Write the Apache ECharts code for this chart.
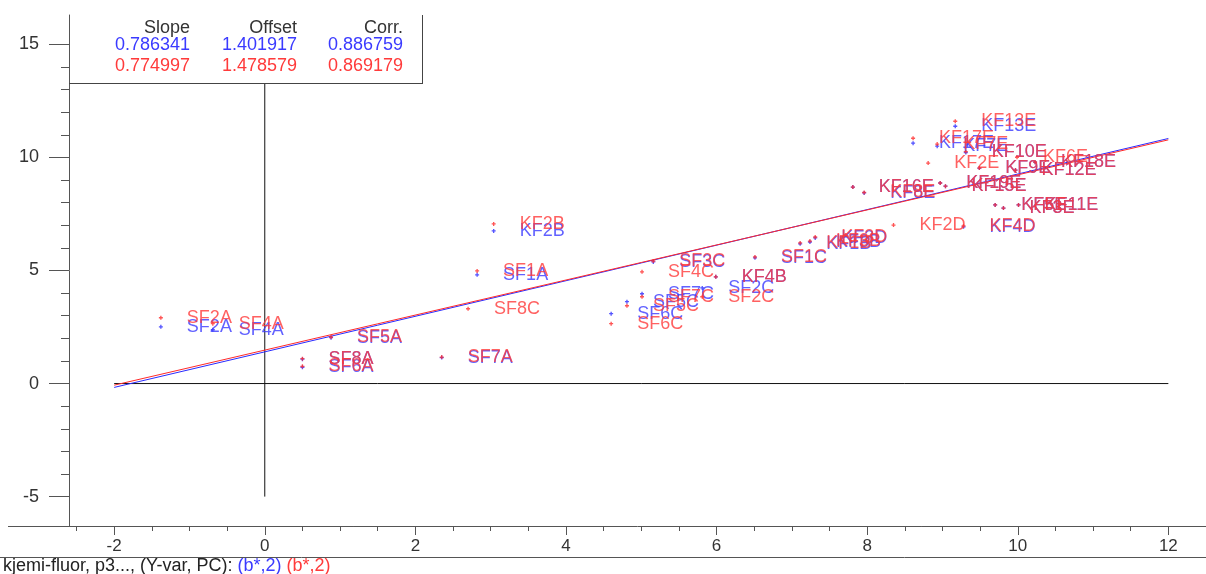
<!DOCTYPE html>
<html>
<head>
<meta charset="utf-8">
<script src="https://cdn.jsdelivr.net/npm/echarts@6/dist/echarts.min.js"></script>
<style>
  html, body { margin: 0; padding: 0; background: #fff; }
  #chart { width: 1206px; height: 574px; }
</style>
</head>
<body>
<div id="chart"></div>
<script>
// Sample names and their shared x value (predictor)
const sampleNames = ['SF2A','SF4A','SF5A','SF8A','SF6A','SF7A','SF8C','SF1A','KF2B','SF4C','SF3C','SF7C','SF5C','SF6C','SF2C','KF4B','SF1C','KF1B','KF3B','KF3D','KF2D','KF4D','KF16E','KF8E','KF13E','KF17E','KF7E','KF10E','KF2E','KF19E','KF15E','KF6E','KF9E','KF12E','KF18E','KF11E','KF5E','KF3E'];
const xValues    = [-1.38,-0.69,0.88,0.50,0.50,2.35,2.70,2.82,3.04,5.01,5.16,5.01,4.81,4.60,5.81,5.99,6.51,7.11,7.24,7.31,8.35,9.28,7.81,7.96,9.17,8.61,8.93,9.31,8.81,8.97,9.04,9.99,9.49,9.97,10.23,10.01,9.70,9.81];
// Response values, blue set (first b* variable) and red set (second b* variable)
const yBlue      = [2.51,2.38,2.03,1.08,0.72,1.15,null,4.81,6.75,null,5.38,3.97,3.62,3.09,4.23,4.72,5.56,6.18,6.26,6.44,null,6.93,8.69,8.43,11.38,10.63,10.50,10.22,null,8.87,8.73,null,9.53,9.44,9.79,7.90,7.90,7.76];
const yRed       = [2.91,2.65,2.06,1.10,0.76,1.17,3.31,4.98,7.06,4.94,5.42,3.84,3.44,2.65,3.84,4.72,5.60,6.22,6.30,6.48,7.01,6.97,8.69,8.45,11.60,10.85,10.59,10.26,9.75,8.87,8.73,10.01,9.53,9.44,9.79,7.90,7.90,7.76];

// Regression statistics: [blue, red]
const slopes  = [0.786341, 0.774997];
const offsets = [1.401917, 1.478579];
const corrs   = [0.886759, 0.869179];
const fitRange = [-2, 12];

// Axis ticks
const xMajorTicks = [-2, 0, 2, 4, 6, 8, 10, 12];
const xMinorTicks = [-2.5,-2,-1.5,-1,-0.5,0,0.5,1,1.5,2,2.5,3,3.5,4,4.5,5,5.5,6,6.5,7,7.5,8,8.5,9,9.5,10,10.5,11,11.5,12,12.5];
const yMajorTicks = [-5, 0, 5, 10, 15];
const yMinorTicks = [-5,-4,-3,-2,-1,0,1,2,3,4,5,6,7,8,9,10,11,12,13,14,15];
const zeroLineX = [-2, 12];
const zeroLineY = [-5, 16.3];

const BLUE = '#2a2aff', RED = '#ff2a2a';
const BLUE_TXT = '#3a3aff', RED_TXT = '#ff3a3a';
const FONT = 'Liberation Sans, Arial, sans-serif';

function pts(ys) {
  const out = [];
  sampleNames.forEach((n, i) => { if (ys[i] != null) out.push([xValues[i], ys[i], n]); });
  return out;
}
function fitLine(k) {
  return fitRange.map(x => [x, offsets[k] + slopes[k] * x]);
}
const plus = 'path://M1,0H2V1H3V2H2V3H1V2H0V1H1Z';

const X_MIN = -2.6, X_MAX = 12.5, Y_MIN = -6.3, Y_MAX = 16.3;

const axisCommon = {
  type: 'value', splitLine: { show: false },
  axisLine: { show: false, onZero: false },
  axisLabel: { show: false }, axisTick: { show: false }
};

const chart = echarts.init(document.getElementById('chart'), null, { renderer: 'canvas' });
chart.setOption({
  animation: false,
  backgroundColor: '#fff',
  grid: { left: 69, top: 15, width: 1137, height: 511 },
  xAxis: [
    Object.assign({}, axisCommon, {
      min: X_MIN, max: X_MAX, position: 'bottom',
      axisLine: { show: true, onZero: false, lineStyle: { color: '#555', width: 1 } },
      axisTick: { show: true, length: 9, customValues: xMajorTicks, lineStyle: { color: '#555' } },
      axisLabel: { show: true, customValues: xMajorTicks, margin: 12, fontSize: 17, color: '#333', fontFamily: FONT }
    }),
    Object.assign({}, axisCommon, {
      min: X_MIN, max: X_MAX, position: 'bottom',
      axisTick: { show: true, length: 5, customValues: xMinorTicks, lineStyle: { color: '#555' } }
    })
  ],
  yAxis: [
    Object.assign({}, axisCommon, {
      min: Y_MIN, max: Y_MAX, position: 'left',
      axisLine: { show: true, onZero: false, lineStyle: { color: '#555', width: 1 } },
      axisTick: { show: true, length: 20, customValues: yMajorTicks, lineStyle: { color: '#555' } },
      axisLabel: { show: true, customValues: yMajorTicks, margin: 30, fontSize: 18, color: '#333', fontFamily: FONT }
    }),
    Object.assign({}, axisCommon, {
      min: Y_MIN, max: Y_MAX, position: 'left',
      axisTick: { show: true, length: 8, customValues: yMinorTicks, lineStyle: { color: '#555' } }
    })
  ],
  series: [
    { type: 'line', data: zeroLineX.map(x => [x, 0]), symbol: 'none', silent: true,
      lineStyle: { color: '#111', width: 1 }, z: 1 },
    { type: 'line', data: zeroLineY.map(y => [0, y]), symbol: 'none', silent: true,
      lineStyle: { color: '#111', width: 1 }, z: 1 },
    { type: 'line', data: fitLine(0), symbol: 'none', lineStyle: { color: BLUE, width: 1 }, z: 2 },
    { type: 'line', data: fitLine(1), symbol: 'none', lineStyle: { color: RED, width: 1 }, z: 3 },
    { type: 'scatter', data: pts(yBlue), symbol: plus, symbolSize: 4,
      itemStyle: { color: BLUE }, z: 4,
      label: { show: true, position: 'right', distance: 24, formatter: p => p.data[2],
               fontSize: 18, fontFamily: FONT, color: BLUE_TXT } },
    { type: 'scatter', data: pts(yRed), symbol: plus, symbolSize: 4,
      itemStyle: { color: RED }, z: 5,
      label: { show: true, position: 'right', distance: 24, formatter: p => p.data[2],
               fontSize: 18, fontFamily: FONT, color: RED_TXT } }
  ],
  graphic: [
    // statistics box in the upper-left corner
    { type: 'rect', z: 100, shape: { x: 70, y: 15, width: 352, height: 68 }, style: { fill: '#fff' } },
    { type: 'line', z: 101, shape: { x1: 69, y1: 83.5, x2: 422.5, y2: 83.5 }, style: { stroke: '#444', lineWidth: 1 } },
    { type: 'line', z: 101, shape: { x1: 422.5, y1: 15, x2: 422.5, y2: 84 }, style: { stroke: '#444', lineWidth: 1 } },
    { type: 'text', z: 102, x: 190, y: 28, style: { text: 'Slope', align: 'right', verticalAlign: 'middle', fontSize: 18, fontFamily: FONT, fill: '#333' } },
    { type: 'text', z: 102, x: 297, y: 28, style: { text: 'Offset', align: 'right', verticalAlign: 'middle', fontSize: 18, fontFamily: FONT, fill: '#333' } },
    { type: 'text', z: 102, x: 403, y: 28, style: { text: 'Corr.', align: 'right', verticalAlign: 'middle', fontSize: 18, fontFamily: FONT, fill: '#333' } },
    { type: 'text', z: 102, x: 190, y: 45, style: { text: slopes[0].toFixed(6), align: 'right', verticalAlign: 'middle', fontSize: 18, fontFamily: FONT, fill: BLUE_TXT } },
    { type: 'text', z: 102, x: 297, y: 45, style: { text: offsets[0].toFixed(6), align: 'right', verticalAlign: 'middle', fontSize: 18, fontFamily: FONT, fill: BLUE_TXT } },
    { type: 'text', z: 102, x: 403, y: 45, style: { text: corrs[0].toFixed(6), align: 'right', verticalAlign: 'middle', fontSize: 18, fontFamily: FONT, fill: BLUE_TXT } },
    { type: 'text', z: 102, x: 190, y: 66, style: { text: slopes[1].toFixed(6), align: 'right', verticalAlign: 'middle', fontSize: 18, fontFamily: FONT, fill: RED_TXT } },
    { type: 'text', z: 102, x: 297, y: 66, style: { text: offsets[1].toFixed(6), align: 'right', verticalAlign: 'middle', fontSize: 18, fontFamily: FONT, fill: RED_TXT } },
    { type: 'text', z: 102, x: 403, y: 66, style: { text: corrs[1].toFixed(6), align: 'right', verticalAlign: 'middle', fontSize: 18, fontFamily: FONT, fill: RED_TXT } },
    // bottom axis line continues to the left edge; footer rule and caption
    { type: 'line', z: 50, shape: { x1: 8, y1: 526.5, x2: 70, y2: 526.5 }, style: { stroke: '#555', lineWidth: 1 } },
    { type: 'line', z: 50, shape: { x1: 0, y1: 557.5, x2: 1206, y2: 557.5 }, style: { stroke: '#555', lineWidth: 1 } },
    { type: 'text', z: 50, x: 3, y: 566, style: {
        text: '{k|kjemi-fluor, p3..., (Y-var, PC): }{b|(b*,2)} {r|(b*,2)}',
        verticalAlign: 'middle', fontSize: 18, fontFamily: FONT,
        rich: { k: { fill: '#222', fontSize: 18, fontFamily: FONT }, b: { fill: BLUE_TXT, fontSize: 18, fontFamily: FONT }, r: { fill: RED_TXT, fontSize: 18, fontFamily: FONT } }
    } }
  ]
});
</script>
</body>
</html>
